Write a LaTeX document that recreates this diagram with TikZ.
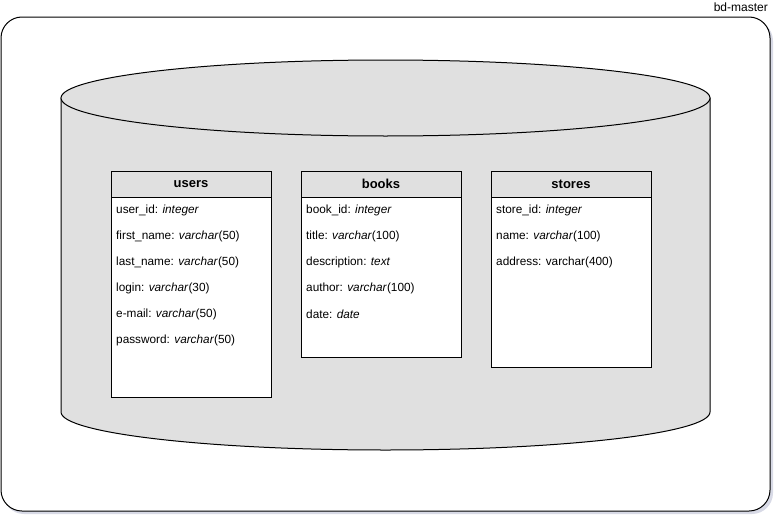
\documentclass[tikz,border=0pt]{standalone}
\usepackage{fontspec}
\setmainfont{Liberation Sans}
\begin{document}
\begin{tikzpicture}[x=1pt,y=-1pt,
  every node/.style={font=\fontsize{11.8}{14}\selectfont, inner sep=0pt},
  line/.style={draw=black, line width=1pt},
  hdr/.style={line, fill=cylgray, anchor=north west, minimum width=160pt, minimum height=26.5pt, font=\fontsize{13}{14}\selectfont\bfseries},
  tbody/.style={line, fill=white, anchor=north west, minimum width=160pt},
  row/.style={anchor=west},
  lbl/.style={anchor=east, font=\fontsize{12}{14}\selectfont}
]
\definecolor{cylgray}{HTML}{E0E0E0}
\definecolor{shadow}{HTML}{D8DAE6}
\useasboundingbox (0,0) rectangle (782,522);
% outer container
\fill[shadow, rounded corners=21pt] (3,20) rectangle (773,514);
\draw[line, fill=white, rounded corners=21pt] (1,17) rectangle (770,511);
\node[lbl] (title) at (768,7.5) {bd-master};
% cylinder
\filldraw[line, fill=cylgray] (61,98) -- (61,412) arc[start angle=180, end angle=360, x radius=324.5pt, y radius=38pt] -- (710,98) -- cycle;
\filldraw[line, fill=cylgray] (385.5,98) ellipse[x radius=324.5pt, y radius=38pt];
% users
\node[tbody, minimum height=200.5pt] (usersb) at (110.5,196.5) {};
\node[hdr] (users) at (110.5,170.5) {users};
\node[row] (u1) at (116,210.5) {user\_id: \textit{integer}};
\node[row] (u2) at (116,236.5) {first\_name: \textit{varchar}(50)};
\node[row] (u3) at (116,262.5) {last\_name: \textit{varchar}(50)};
\node[row] (u4) at (116,288.5) {login: \textit{varchar}(30)};
\node[row] (u5) at (116,314.5) {e-mail: \textit{varchar}(50)};
\node[row] (u6) at (116,340.5) {password: \textit{varchar}(50)};
% books
\node[tbody, minimum height=160.5pt] (booksb) at (300.5,196.5) {};
\node[hdr] (books) at (300.5,170.5) {books};
\node[row] (b1) at (306,210.5) {book\_id: \textit{integer}};
\node[row] (b2) at (306,236.5) {title: \textit{varchar}(100)};
\node[row] (b3) at (306,262.5) {description: \textit{text}};
\node[row] (b4) at (306,288.5) {author: \textit{varchar}(100)};
\node[row] (b5) at (306,314.5) {date: \textit{date}};
% stores
\node[tbody, minimum height=170.5pt] (storesb) at (490.5,196.5) {};
\node[hdr] (stores) at (490.5,170.5) {stores};
\node[row] (s1) at (496,210.5) {store\_id: \textit{integer}};
\node[row] (s2) at (496,236.5) {name: \textit{varchar}(100)};
\node[row] (s3) at (496,262.5) {address: varchar(400)};
\end{tikzpicture}
\end{document}
